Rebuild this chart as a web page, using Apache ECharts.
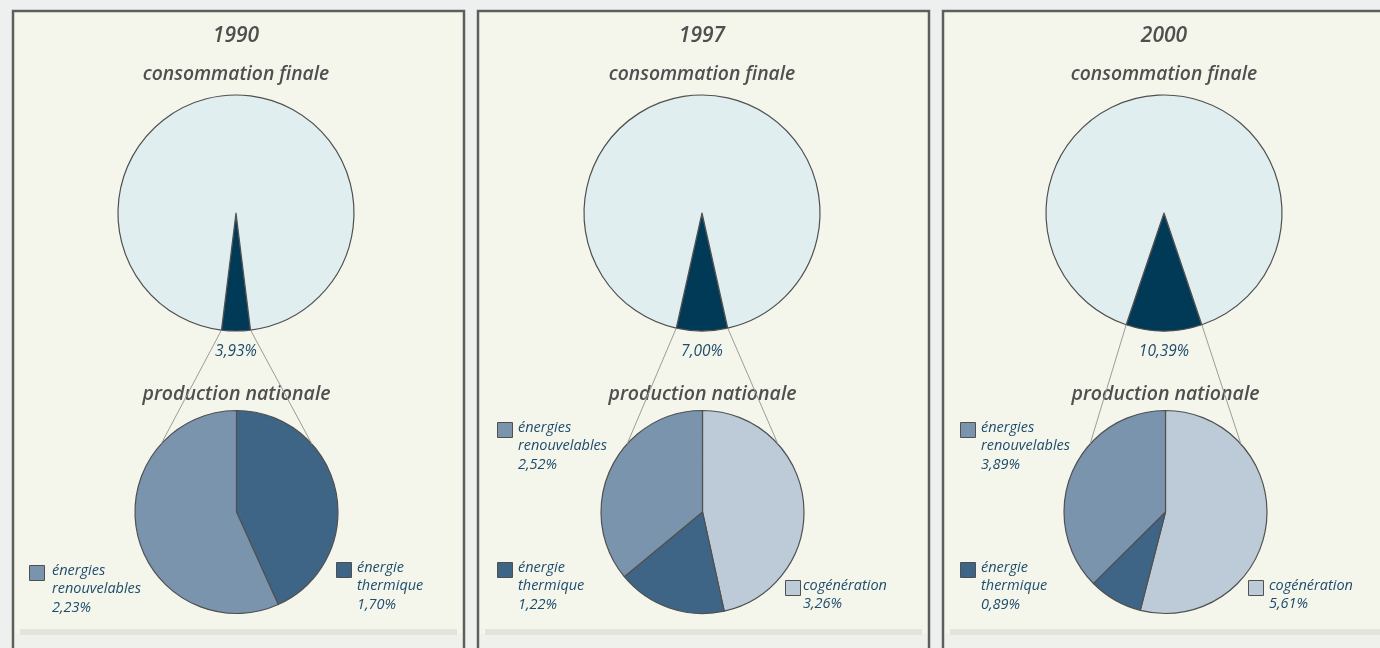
<!DOCTYPE html>
<html>
<head>
<meta charset="utf-8">
<title>consommation finale / production nationale</title>
<script src="https://cdn.jsdelivr.net/npm/echarts@6/dist/echarts.min.js"></script>
<style>
    html, body { margin: 0; padding: 0; background: #edf0ef; }
    #chart { width: 1380px; height: 648px; }
</style>
</head>
<body>
<div id="chart"></div>
<script>
// donnees (en % de la consommation finale)
var years = ['1990', '1997', '2000'];
var finalShare = [3.93, 7.00, 10.39];
var cogeneration = [null, 3.26, 5.61];
var thermique = [1.70, 1.22, 0.89];
var renouvelables = [2.23, 2.52, 3.89];

var names = {
    cog: 'cogénération',
    the: 'énergie thermique',
    ren: 'énergies renouvelables'
};

var colors = {
    topLight: '#e1eef0',
    topDark: '#003a57',
    cog: '#bdcad8',
    the: '#3f6586',
    ren: '#7b94ae',
    edge: '#505050',
    value: '#1f4c6c',
    title: '#4f4f4f'
};

// mise en page
var panelX = [12, 477, 942];
var topCx = [236, 702, 1164], topCy = 213, topR = 118;
var botCx = [236.5, 702.5, 1165.5], botCy = 512, botR = 101.5;

// position des etiquettes [x case, y case, x texte] par panneau
var legendPos = [
    { ren: [29, 565, 52], the: [336, 562, 357] },
    { ren: [497, 422, 518], the: [497, 562, 518], cog: [785, 580, 803] },
    { ren: [960, 422, 981], the: [960, 562, 981], cog: [1248, 580, 1269] }
];

function fmt(v) {
    return v.toFixed(2).replace('.', ',') + '%';
}

var FONT = '"Open Sans", "Noto Sans", sans-serif';

(function () {
    var series = [];
    var graphic = [];

    for (var i = 0; i < years.length; i++) {
        var share = finalShare[i];

        // fond du panneau
        graphic.push({
            type: 'rect', z: -10, silent: true,
            shape: { x: panelX[i] + 1, y: 11, width: 451, height: 660 },
            style: { fill: '#f4f6ec', stroke: '#5c5f5c', lineWidth: 2.5 }
        });
        graphic.push({
            type: 'rect', z: -9, silent: true,
            shape: { x: panelX[i] + 3, y: 634, width: 447, height: 20 },
            style: { fill: '#eff1ec' }
        });
        graphic.push({
            type: 'rect', z: -9, silent: true,
            shape: { x: panelX[i] + 8, y: 629, width: 437, height: 6 },
            style: { fill: '#e3e4db' }
        });

        // titres
        graphic.push({
            type: 'text', silent: true,
            style: {
                text: years[i], x: topCx[i], y: 36, align: 'center', verticalAlign: 'middle',
                font: 'italic 600 21px ' + FONT, fill: colors.title
            }
        });
        graphic.push({
            type: 'text', silent: true,
            style: {
                text: 'consommation finale', x: topCx[i], y: 75, align: 'center', verticalAlign: 'middle',
                font: 'italic 600 19.3px ' + FONT, fill: colors.title
            }
        });
        graphic.push({
            type: 'text', silent: true,
            style: {
                text: 'production nationale', x: botCx[i], y: 394, align: 'center', verticalAlign: 'middle',
                font: 'italic 600 19.5px ' + FONT, fill: colors.title
            }
        });
        graphic.push({
            type: 'text', silent: true,
            style: {
                text: fmt(share), x: topCx[i], y: 352, align: 'center', verticalAlign: 'middle',
                font: 'italic 15.5px ' + FONT, fill: colors.value
            }
        });

        // camembert du haut : part centree vers le bas
        series.push({
            type: 'pie',
            silent: true,
            center: [topCx[i], topCy],
            radius: topR,
            startAngle: -90 + share * 1.8,
            label: { show: false },
            labelLine: { show: false },
            emphasis: { disabled: true },
            itemStyle: { borderColor: colors.edge, borderWidth: 1.2 },
            data: [
                { name: 'production nationale', value: share, itemStyle: { color: colors.topDark } },
                { name: 'autres', value: 100 - share, itemStyle: { color: colors.topLight } }
            ]
        });

        // camembert du bas : detail de la production nationale
        var parts = [];
        if (cogeneration[i] != null) {
            parts.push({ name: names.cog, value: cogeneration[i], itemStyle: { color: colors.cog } });
        }
        parts.push({ name: names.the, value: thermique[i], itemStyle: { color: colors.the } });
        parts.push({ name: names.ren, value: renouvelables[i], itemStyle: { color: colors.ren } });

        series.push({
            type: 'pie',
            silent: true,
            center: [botCx[i], botCy],
            radius: botR,
            startAngle: 90,
            label: { show: false },
            labelLine: { show: false },
            emphasis: { disabled: true },
            itemStyle: { borderColor: colors.edge, borderWidth: 1.2 },
            data: parts
        });

        // traits de liaison entre les deux camemberts
        var half = share / 100 * Math.PI;
        var tie = 48 * Math.PI / 180;
        [-1, 1].forEach(function (s) {
            graphic.push({
                type: 'line', silent: true, z: 5,
                shape: {
                    x1: topCx[i] + s * topR * Math.sin(half),
                    y1: topCy + topR * Math.cos(half),
                    x2: botCx[i] + s * botR * Math.sin(tie),
                    y2: botCy - botR * Math.cos(tie)
                },
                style: { stroke: '#9c9c98', lineWidth: 1 }
            });
        });

        // etiquettes avec case de couleur
        var items = [
            { key: 'ren', text: 'énergies\nrenouvelables\n' + fmt(renouvelables[i]) },
            { key: 'the', text: 'énergie\nthermique\n' + fmt(thermique[i]) }
        ];
        if (cogeneration[i] != null) {
            items.push({ key: 'cog', text: 'cogénération\n' + fmt(cogeneration[i]) });
        }
        items.forEach(function (it) {
            var p = legendPos[i][it.key];
            graphic.push({
                type: 'rect', silent: true,
                shape: { x: p[0] + 0.5, y: p[1] + 0.5, width: 15, height: 15 },
                style: { fill: colors[it.key], stroke: colors.edge, lineWidth: 1 }
            });
            graphic.push({
                type: 'text', silent: true,
                style: {
                    text: it.text, x: p[2], y: p[1] - 3.5, verticalAlign: 'top',
                    font: 'italic 14.5px ' + FONT, lineHeight: 18.5, fill: colors.value
                }
            });
        });
    }

    var chart = echarts.init(document.getElementById('chart'), null, { renderer: 'canvas' });
    chart.setOption({
        backgroundColor: '#edf0ef',
        animation: false,
        graphic: graphic,
        series: series
    });
})();
</script>
</body>
</html>
